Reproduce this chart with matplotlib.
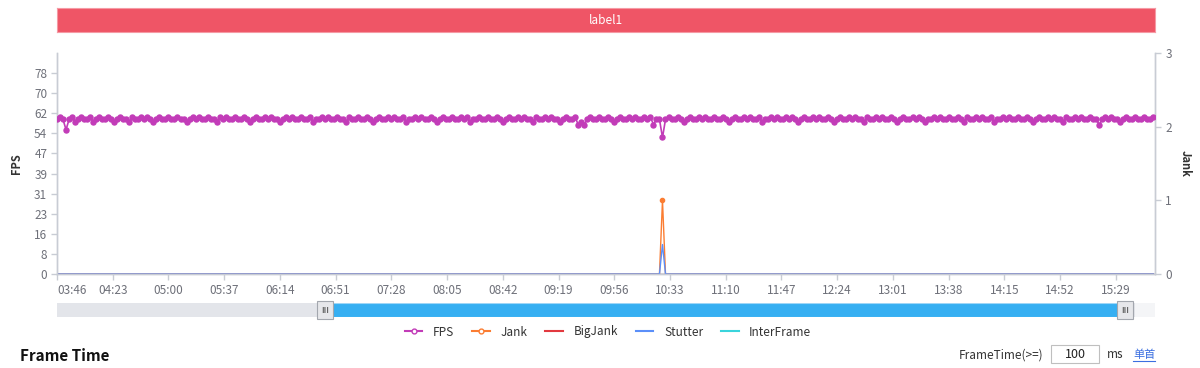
import matplotlib
matplotlib.use('Agg')
import matplotlib.pyplot as plt
from matplotlib.patches import Rectangle
from matplotlib.lines import Line2D
import numpy as np

plt.rcParams['font.family'] = ['Noto Sans CJK SC', 'DejaVu Sans']

#- sampling: one point every 2 s, starting at 03:46
t_start = 226
t_step = 2
t_end = 955

fps = [
    60,61,60,56,60,61,59,60,61,60,60,61,59,60,61,60,60,61,60,59,
    60,61,60,60,59,61,60,60,61,60,61,60,59,60,61,60,60,61,60,60,
    61,60,60,59,60,61,60,61,60,60,61,60,60,59,61,60,61,60,60,61,
    60,60,61,60,59,60,61,60,60,61,60,61,60,60,59,60,61,60,61,60,
    60,61,60,60,61,59,60,60,61,60,61,60,60,61,60,60,59,61,60,60,
    61,60,60,61,60,59,60,61,60,60,61,60,61,60,60,61,59,60,60,61,
    60,61,60,60,61,60,59,60,61,60,60,61,60,60,61,60,61,59,60,60,
    61,60,60,61,60,60,61,60,59,60,61,60,60,61,60,61,60,60,59,61,
    60,60,61,60,61,60,60,59,60,61,60,60,61,58,59,58,60,61,60,60,
    61,60,60,61,60,59,60,61,60,60,61,60,61,60,60,61,60,61,58,60,
    60,53,60,61,60,60,61,60,59,60,61,60,60,61,60,61,60,60,61,60,
    60,61,60,59,60,61,60,60,61,60,61,60,60,61,59,60,60,61,60,61,
    60,60,61,60,61,60,59,60,61,60,60,61,60,61,60,60,61,60,59,60,
    61,60,60,61,60,61,60,60,59,61,60,60,61,60,61,60,60,61,60,59,
    60,61,60,60,61,60,61,60,59,60,60,61,60,61,60,60,61,60,60,61,
    60,59,61,60,60,61,60,61,60,60,61,59,60,60,61,60,61,60,60,61,
    60,60,61,60,59,60,61,60,60,61,60,61,60,60,59,61,60,60,61,60,
    61,60,60,61,60,60,58,60,61,60,61,60,60,59,60,61,60,60,61,60,
    60,61,60,60,61,
]

#- non-zero samples of the jank-type series (sample index: value)
jank_events = {201: 1}
bigjank_events = {}
stutter_events = {201: 0.4}
interframe_events = {}

x_labels = ['03:46', '04:23', '05:00', '05:37', '06:14', '06:51', '07:28',
            '08:05', '08:42', '09:19', '09:56', '10:33', '11:10', '11:47',
            '12:24', '13:01', '13:38', '14:15', '14:52', '15:29']
fps_ticks = [0, 8, 16, 23, 31, 39, 47, 54, 62, 70, 78]
jank_ticks = [0, 1, 2, 3]

series_names = ['FPS', 'Jank', 'BigJank', 'Stutter', 'InterFrame']
series_colors = ['#c23cb8', '#fb7d32', '#e2393f', '#5b8ff9', '#3ad4dc']

AXIS_C = '#6e7079'
LINE_C = '#c8ccd4'

def to_sec(s):
    m, sec = s.split(':')
    return int(m) * 60 + int(sec)

def full_series(events, n):
    out = np.zeros(n)
    for k in events:
        out[k] = events[k]
    return out

n = len(fps)
times = t_start + t_step * np.arange(n)
jank = full_series(jank_events, n)
bigjank = full_series(bigjank_events, n)
stutter = full_series(stutter_events, n)
interframe = full_series(interframe_events, n)

W, H = 1200, 368
fig = plt.figure(figsize=(W / 100, H / 100), dpi=100)

def fx(px):
    return px / W

def fy(py):
    return 1 - py / H

#- title bar
bar = fig.add_axes([fx(57), fy(32), fx(1155 - 57), (32 - 8) / H])
bar.set_facecolor('#ef5566')
bar.set_xticks([])
bar.set_yticks([])
for sp in bar.spines.values():
    sp.set_color('#f59aa4')
    sp.set_linewidth(0.8)
bar.text(0.5, 0.5, 'label1', color='white', fontsize=8.5, ha='center',
         va='center', transform=bar.transAxes)

#- main axes
ax = fig.add_axes([fx(57), fy(274), fx(1155 - 57), (274 - 53) / H])
ax2 = ax.twinx()

fps_max = 85.8
ax.set_ylim(0, fps_max)
ax.set_yticks([i * 7.8 for i in range(len(fps_ticks))])
ax.set_yticklabels([str(v) for v in fps_ticks])
ax2.set_ylim(0, 3)
ax2.set_yticks(jank_ticks)
ax2.set_yticklabels([str(v) for v in jank_ticks])
ax.set_xlim(t_start, t_end)
ax.set_xticks([to_sec(s) for s in x_labels])
ax.set_xticklabels(x_labels)
ax.get_xticklabels()[0].set_ha('left')

ax2.plot(times, interframe, color=series_colors[4], lw=1, zorder=2)
ax2.plot(times, bigjank, color=series_colors[2], lw=1, zorder=2)
ax2.plot(times, jank, color=series_colors[1], lw=1, marker='o', ms=3,
         markevery=list(jank_events.keys()), zorder=3)
ax2.plot(times, stutter, color=series_colors[3], lw=1, zorder=4)
ax.plot(times, fps, color=series_colors[0], lw=1.2, marker='o', ms=3.6,
        zorder=5)
ax.set_zorder(ax2.get_zorder() + 1)
ax.patch.set_visible(False)

for a in (ax, ax2):
    a.spines['top'].set_visible(False)
    for sp in ('left', 'right', 'bottom'):
        a.spines[sp].set_color(LINE_C)
        a.spines[sp].set_linewidth(1)
    a.tick_params(colors=AXIS_C, labelsize=8.5, length=4, width=1)
    a.tick_params(axis='both', color=LINE_C)
ax.tick_params(axis='y', pad=3)
ax.set_ylabel('FPS', fontsize=8, fontweight='bold', color='#333333',
              labelpad=8)
ax2.set_ylabel('Jank', fontsize=8, fontweight='bold', color='#333333',
               rotation=-90, labelpad=14)

#- data zoom slider
sl = fig.add_axes([fx(57), fy(317), fx(1155 - 57), (317 - 303) / H])
sl.set_xlim(57, 1155)
sl.set_ylim(0, 1)
sl.axis('off')
sl.add_patch(Rectangle((57, 0), 1155 - 57, 1, color='#e3e5ea', lw=0))
sl.add_patch(Rectangle((326, 0), 1125 - 326, 1, fc='#36aff2',
                       ec='#9fd6f7', lw=0.8))
sl.add_patch(Rectangle((1135, 0), 20, 1, color='#f4f5f7', lw=0))
for hx in (325, 1125):
    sl.add_patch(Rectangle((hx - 8, -0.12), 16, 1.24, fc='#e6e7ea',
                           ec='#a3a7ae', lw=0.8, clip_on=False, zorder=5))
    sl.text(hx, 0.47, 'III', fontsize=5.5, color='#666666', ha='center',
            va='center', zorder=6, fontweight='bold')

#- legend
handles = [
    Line2D([], [], color=series_colors[0], lw=1.5, marker='o', ms=3.5,
           mfc='white'),
    Line2D([], [], color=series_colors[1], lw=1.5, marker='o', ms=3.5,
           mfc='white'),
    Line2D([], [], color=series_colors[2], lw=1.5),
    Line2D([], [], color=series_colors[3], lw=1.5),
    Line2D([], [], color=series_colors[4], lw=1.5),
]
fig.legend(handles, series_names, loc='center', ncol=5,
           bbox_to_anchor=(fx(608), fy(332)), frameon=False, fontsize=8.5,
           handlelength=1.5, columnspacing=1.5, handletextpad=0.9,
           labelcolor='#333333')

#- footer
fig.text(fx(20), fy(356), 'Frame Time', fontsize=11, fontweight='bold',
         ha='left', va='center', color='#111111')
fig.text(fx(1043), fy(355), 'FrameTime(>=)', fontsize=8.5, ha='right',
         va='center', color='#333333')
fig.patches.append(Rectangle((fx(1051), fy(363)), fx(48), 18 / H,
                             transform=fig.transFigure, fc='white',
                             ec='#bfbfbf', lw=0.8))
fig.text(fx(1075), fy(355), '100', fontsize=9, ha='center', va='center',
         color='#222222')
fig.text(fx(1107), fy(355), 'ms', fontsize=8.5, ha='left', va='center',
         color='#333333')
fig.text(fx(1133), fy(355), '单首', fontsize=8, ha='left', va='center',
         color='#3b6fe0')
fig.add_artist(Line2D([fx(1133), fx(1155)], [fy(361), fy(361)],
                      color='#3b6fe0', lw=0.8))

fig.savefig('out.png', dpi=100)
